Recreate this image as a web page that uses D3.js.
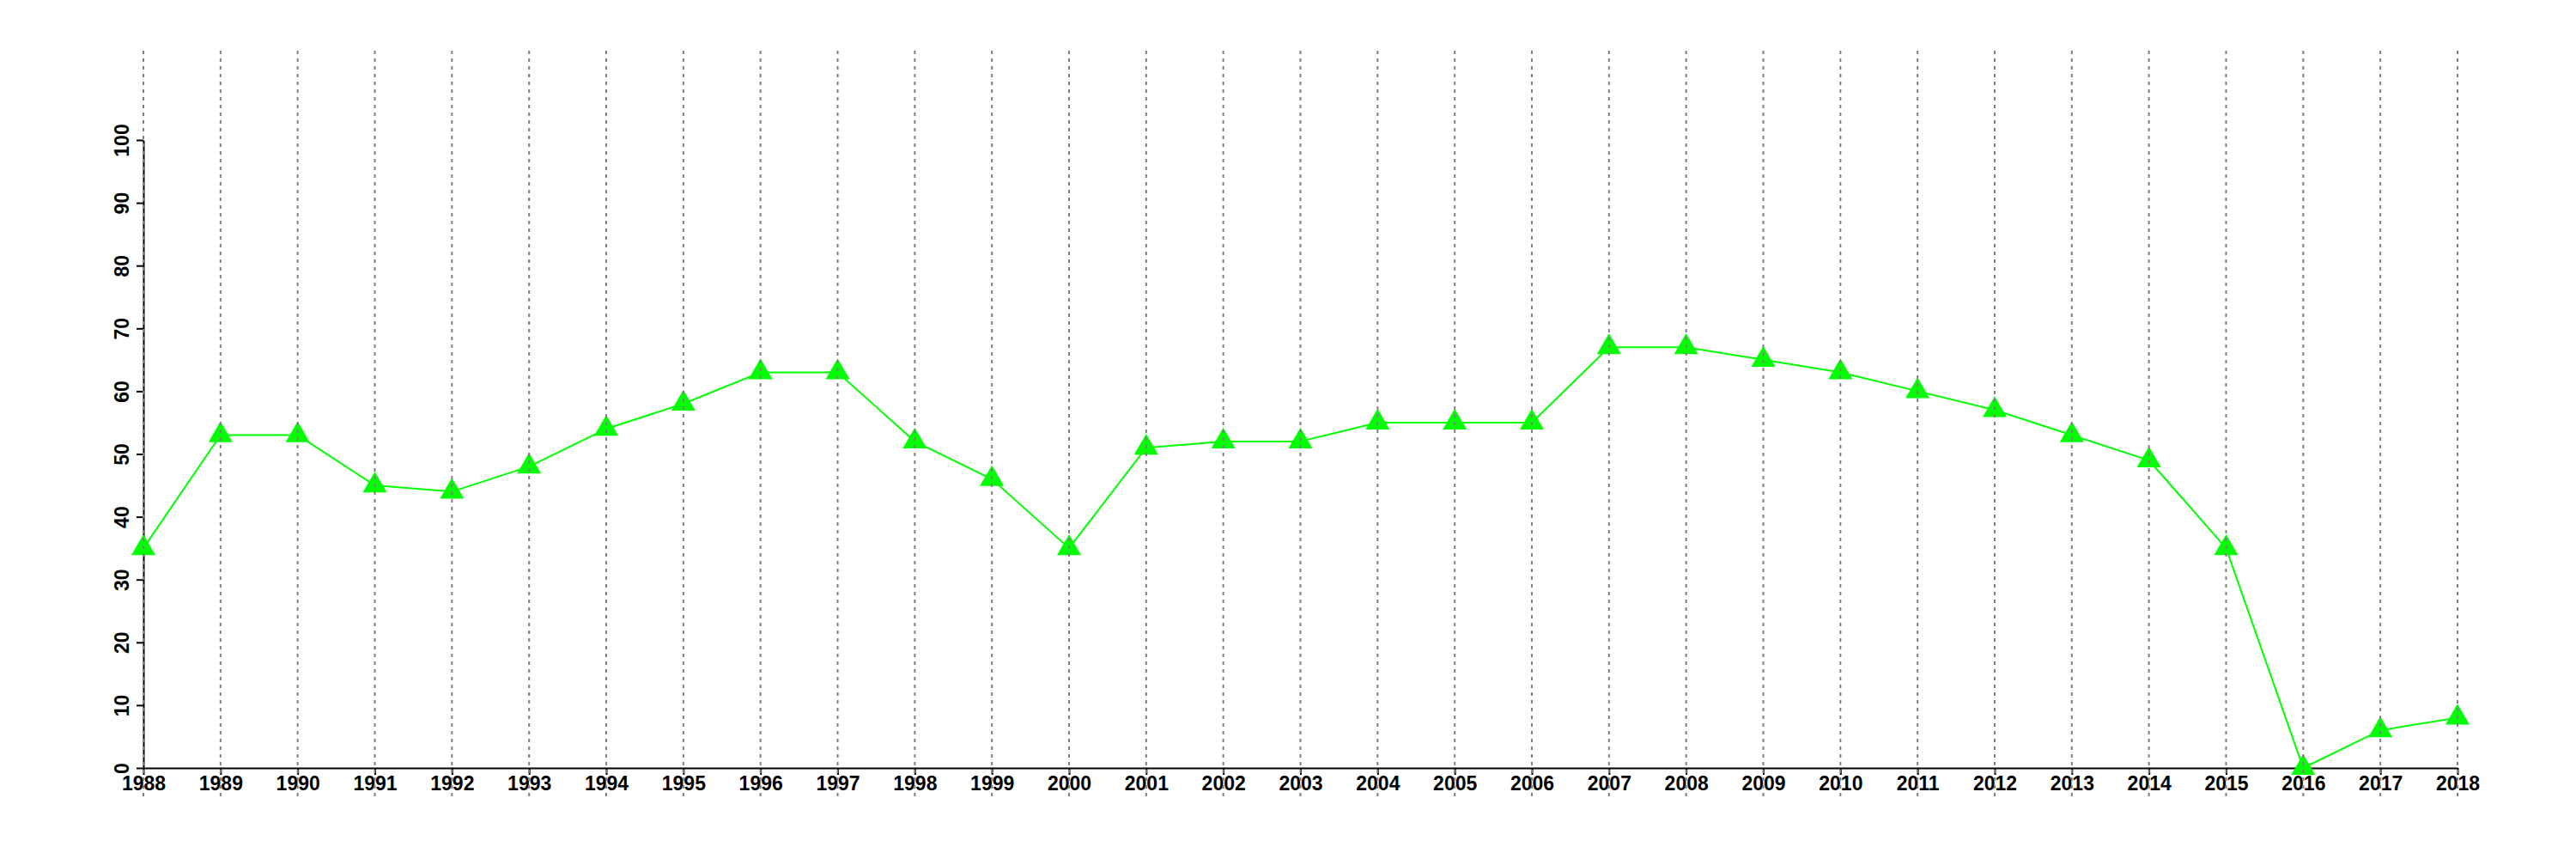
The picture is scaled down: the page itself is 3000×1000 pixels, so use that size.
<!DOCTYPE html>
<html>
<head>
<meta charset="utf-8">
<script src="https://cdn.jsdelivr.net/npm/d3@7"></script>
<style>
  html, body { margin: 0; padding: 0; background: #fff; }
  svg { display: block; }
</style>
</head>
<body>
<svg id="chart" width="3000" height="1000"></svg>
<script>
const years = [1988,1989,1990,1991,1992,1993,1994,1995,1996,1997,1998,1999,2000,2001,2002,2003,2004,2005,2006,2007,2008,2009,2010,2011,2012,2013,2014,2015,2016,2017,2018];
const values = [35,53,53,45,44,48,54,58,63,63,52,46,35,51,52,52,55,55,55,67,67,65,63,60,57,53,49,35,0,6,8];
const yTicks = [0,10,20,30,40,50,60,70,80,90,100];

const svg = d3.select("#chart");
const x = d3.scaleLinear().domain([1988, 2018]).range([167, 2862]);
const y = d3.scaleLinear().domain([0, 100]).range([894, 163]);
const font = "'Liberation Sans', Arial, Helvetica, sans-serif";

// Y axis
const yAxis = svg.append("g")
  .attr("transform", `translate(${x(1988)},0)`)
  .call(d3.axisLeft(y).tickValues(yTicks).tickSize(8).tickSizeOuter(0));
yAxis.select(".domain").attr("stroke", "#000").attr("stroke-width", 2);
yAxis.selectAll(".tick line").attr("stroke", "#000").attr("stroke-width", 2);
yAxis.selectAll(".tick text")
  .attr("transform", "rotate(-90)")
  .attr("x", 0).attr("y", -17).attr("dy", 0)
  .attr("text-anchor", "middle")
  .attr("fill", "#000")
  .style("font-family", font).style("font-size", "23px").style("font-weight", "bold");

// X axis
const xAxis = svg.append("g")
  .attr("transform", `translate(0,${y(0)})`)
  .call(d3.axisBottom(x).tickValues(years).tickFormat(d3.format("d")).tickSize(8).tickSizeOuter(0));
xAxis.select(".domain").attr("stroke", "#000").attr("stroke-width", 2);
xAxis.selectAll(".tick line").attr("stroke", "#000").attr("stroke-width", 2);
xAxis.selectAll(".tick text")
  .attr("y", 26).attr("dy", 0)
  .attr("fill", "#000")
  .style("font-family", font).style("font-size", "23px").style("font-weight", "bold");

// Data line
const line = d3.line().x((d, i) => x(years[i])).y(d => y(d));
svg.append("path")
  .datum(values)
  .attr("d", line)
  .attr("fill", "none")
  .attr("stroke", "#00ff00")
  .attr("stroke-width", 2);

// Markers
svg.append("g").selectAll("path")
  .data(values)
  .join("path")
  .attr("transform", (d, i) => `translate(${x(years[i])},${y(d)})`)
  .attr("d", d3.symbol(d3.symbolTriangle, 339))
  .attr("fill", "#00ff00");

// Vertical dashed gridlines (drawn on top)
svg.append("g").selectAll("line")
  .data(years)
  .join("line")
  .attr("x1", d => x(d)).attr("x2", d => x(d))
  .attr("y1", 59).attr("y2", 928)
  .attr("stroke", "#808080")
  .attr("stroke-width", 2)
  .attr("stroke-dasharray", "4,5");
</script>
</body>
</html>
